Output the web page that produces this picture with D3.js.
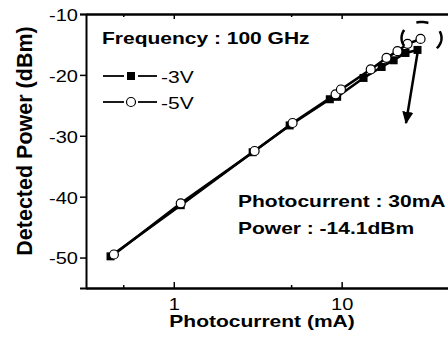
<!DOCTYPE html>
<html>
<head>
<meta charset="utf-8">
<script src="https://cdn.jsdelivr.net/npm/d3@7"></script>
<style>
  body { margin: 0; background: #fff; }
  text { font-family: "Liberation Sans", Arial, sans-serif; fill: #000; }
</style>
</head>
<body>
<div id="chart"></div>
<script>
// photocurrent (mA) and detected power (dBm)
var current3V = [0.42, 1.10, 2.95, 4.9, 8.5, 9.4, 13.5, 17.3, 20.4, 24.0, 28.3];
var power3V   = [-49.8, -41.4, -32.7, -28.3, -24.0, -23.6, -20.5, -18.7, -17.6, -16.4, -15.9];
var current5V = [0.44, 1.10, 3.03, 5.1, 9.2, 9.9, 14.9, 18.5, 21.5, 24.7, 29.5];
var power5V   = [-49.5, -41.1, -32.5, -27.9, -23.2, -22.4, -19.1, -17.2, -16.1, -14.9, -14.1];

var yTicks = [-50, -40, -30, -20, -10];
var xMajor = [1, 10];
var xMinor = [0.5, 5, 50];

var W = 448, H = 339;
var svg = d3.select("#chart").append("svg")
    .attr("width", W).attr("height", H);

var x = d3.scaleLog().domain([0.3, 50]).range([86, 459]);
var y = d3.scaleLinear().domain([-55, -10]).range([288, 14]);

// horizontal texts in the figure are squashed vertically
function label(px, py, s, size, bold, anchor) {
    return svg.append("text")
        .attr("transform", "translate(" + px + "," + py + ") scale(1,0.8)")
        .attr("font-size", size)
        .attr("font-weight", bold ? "bold" : "normal")
        .attr("text-anchor", anchor || "start")
        .text(s);
}

function styleAxis(g) {
    g.select(".domain").attr("stroke", "#000").attr("stroke-width", 2);
    g.selectAll(".tick line").attr("stroke", "#000").attr("stroke-width", 1.5);
}

var plain = function (d) { return String(d); };

// left axis
var gy = svg.append("g").attr("transform", "translate(86,0)")
    .call(d3.axisLeft(y).tickValues(yTicks).tickSizeOuter(0).tickSize(6).tickPadding(2)
        .tickFormat(plain));
styleAxis(gy);
gy.selectAll(".tick text").attr("font-size", 20)
    .attr("transform", "scale(1,0.8)").attr("dy", "0.4em");

// bottom axis: major and minor ticks, inward
var gx = svg.append("g").attr("transform", "translate(0,288)")
    .call(d3.axisBottom(x).tickValues(xMajor).tickSizeOuter(0).tickSizeInner(-6)
        .tickFormat(plain));
styleAxis(gx);
gx.selectAll(".tick text").attr("font-size", 20)
    .attr("transform", "scale(1,0.8)").attr("y", 27.5).attr("dy", 0);
var gxm = svg.append("g").attr("transform", "translate(0,288)")
    .call(d3.axisBottom(x).tickValues(xMinor).tickSizeOuter(0).tickSizeInner(-3).tickFormat(""));
styleAxis(gxm);

// top axis
var gt = svg.append("g").attr("transform", "translate(0,14)")
    .call(d3.axisTop(x).tickValues(xMajor).tickSizeOuter(0).tickSizeInner(-5).tickFormat(""));
styleAxis(gt);
var gtm = svg.append("g").attr("transform", "translate(0,14)")
    .call(d3.axisTop(x).tickValues(xMinor).tickSizeOuter(0).tickSizeInner(-3).tickFormat(""));
styleAxis(gtm);

// series
var s3 = current3V.map(function (c, i) { return { c: c, p: power3V[i] }; });
var s5 = current5V.map(function (c, i) { return { c: c, p: power5V[i] }; });

var line = d3.line().x(function (d) { return x(d.c); }).y(function (d) { return y(d.p); });

svg.append("path").datum(s3).attr("d", line)
    .attr("fill", "none").attr("stroke", "#000").attr("stroke-width", 2.5);
svg.selectAll(".sq").data(s3).enter().append("rect")
    .attr("x", function (d) { return x(d.c) - 4; })
    .attr("y", function (d) { return y(d.p) - 4; })
    .attr("width", 8).attr("height", 8).attr("fill", "#000");

svg.append("path").datum(s5).attr("d", line)
    .attr("fill", "none").attr("stroke", "#000").attr("stroke-width", 2.5);
svg.selectAll(".ci").data(s5).enter().append("circle")
    .attr("cx", function (d) { return x(d.c); })
    .attr("cy", function (d) { return y(d.p); })
    .attr("r", 4.5).attr("fill", "#fff").attr("stroke", "#000").attr("stroke-width", 1.2);

// legend
label(102, 44, "Frequency : 100 GHz", 21, true);
[[76, "sq", "-3V"], [102, "ci", "-5V"]].forEach(function (e) {
    var ly = e[0];
    svg.append("line").attr("x1", 103).attr("x2", 124).attr("y1", ly).attr("y2", ly)
        .attr("stroke", "#000").attr("stroke-width", 1.8);
    svg.append("line").attr("x1", 138).attr("x2", 157).attr("y1", ly).attr("y2", ly)
        .attr("stroke", "#000").attr("stroke-width", 1.8);
    if (e[1] == "sq") {
        svg.append("rect").attr("x", 127).attr("y", ly - 4).attr("width", 8).attr("height", 8)
            .attr("fill", "#000");
    } else {
        svg.append("circle").attr("cx", 131).attr("cy", ly).attr("r", 4.5)
            .attr("fill", "#fff").attr("stroke", "#000").attr("stroke-width", 1.2);
    }
    label(161, ly + 7, e[2], 21, false);
});

// annotation text
label(238, 207, "Photocurrent : 30mA", 21, true);
label(238, 234, "Power : -14.1dBm", 21, true);

// dashed ellipse around last -5V point (drawn as three arc pieces)
var last = s5[s5.length - 1];
var ecx = x(last.c) + 1, ecy = y(last.p) - 1, erx = 20, ery = 16;
[[150, 210], [255, 290], [-25, 40]].forEach(function (a) {
    var pts = d3.range(a[0], a[1] + 1, 5).map(function (deg) {
        var t = deg * Math.PI / 180;
        return [ecx + erx * Math.cos(t), ecy + ery * Math.sin(t)];
    });
    svg.append("path").attr("d", d3.line()(pts))
        .attr("fill", "none").attr("stroke", "#000").attr("stroke-width", 2.5);
});

// arrow from last -3V point downwards
var a3 = s3[s3.length - 1];
var ax0 = x(a3.c), ay0 = y(a3.p) + 3, ax1 = 406, ay1 = 123;
svg.append("defs").append("marker").attr("id", "ah")
    .attr("viewBox", "0 0 10 10").attr("refX", 9).attr("refY", 5)
    .attr("markerWidth", 5).attr("markerHeight", 5).attr("orient", "auto")
    .append("path").attr("d", "M0,0.5 L10,5 L0,9.5 Z").attr("fill", "#000");
svg.append("line").attr("x1", ax0).attr("y1", ay0).attr("x2", ax1).attr("y2", ay1)
    .attr("stroke", "#000").attr("stroke-width", 2.5).attr("marker-end", "url(#ah)");

// axis titles
label(262, 327, "Photocurrent (mA)", 21, true, "middle");
svg.append("text")
    .attr("transform", "translate(32,141) rotate(-90)")
    .attr("text-anchor", "middle").attr("font-size", 21.5).attr("font-weight", "bold")
    .text("Detected Power (dBm)");
</script>
</body>
</html>
